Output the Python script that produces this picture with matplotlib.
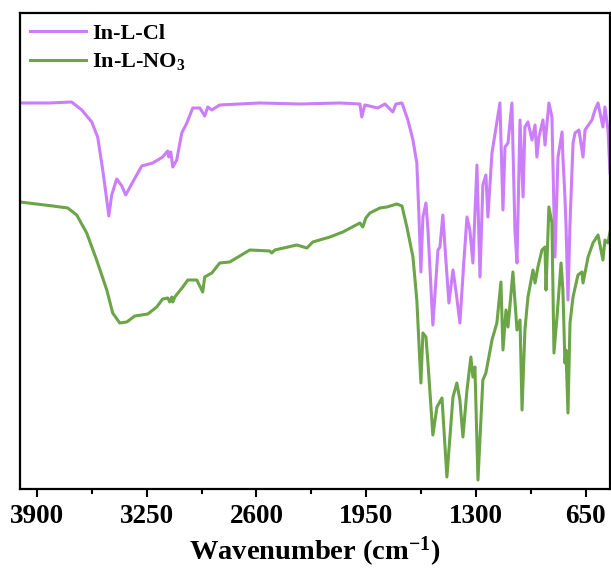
import matplotlib
matplotlib.use("Agg")
import matplotlib.pyplot as plt
from matplotlib.ticker import MultipleLocator

plt.rcParams['font.family'] = ['Liberation Serif', 'DejaVu Serif']
plt.rcParams['font.weight'] = 'bold'
plt.rcParams['mathtext.fontset'] = 'custom'
plt.rcParams['mathtext.rm'] = 'Liberation Serif:bold'
plt.rcParams['mathtext.default'] = 'rm'

# In-L-Cl spectrum (wavenumber cm-1, transmittance a.u.)
wn_cl = [4000, 3824, 3694, 3634, 3575, 3540, 3510, 3486, 3474, 3457, 3427, 3397,
         3374, 3332, 3279, 3214, 3155, 3125, 3119, 3107, 3095, 3072, 3042, 3012,
         2977, 2935, 2906, 2888, 2864, 2817, 2580, 2343, 2106, 1987, 1976, 1958,
         1881, 1839, 1792, 1774, 1738, 1703, 1673, 1650, 1638, 1626, 1614, 1596,
         1584, 1555, 1525, 1513, 1496, 1478, 1460, 1436, 1419, 1395, 1371, 1353,
         1336, 1318, 1294, 1276, 1259, 1241, 1229, 1205, 1158, 1140, 1128, 1110,
         1087, 1069, 1057, 1039, 1021, 1010, 992, 968, 950, 939, 927, 903, 891,
         868, 850, 832, 814, 790, 785, 773, 767, 755, 743, 725, 713, 690, 666,
         654, 613, 595, 577, 548, 536, 518, 506]
t_cl = [386, 386, 387, 379, 367, 352, 319, 289, 273, 294, 310, 303,
        294, 307, 323, 326, 332, 338, 332, 337, 322, 329, 356, 366,
        381, 381, 373, 382, 379, 384, 386, 385, 386, 385, 372, 384,
        381, 385, 377, 385, 386, 369, 349, 326, 276, 217, 272, 286,
        259, 164, 239, 242, 274, 229, 186, 219, 199, 166, 229, 272,
        259, 226, 324, 212, 304, 314, 272, 336, 386, 279, 342, 346,
        386, 259, 226, 369, 292, 362, 367, 349, 364, 332, 352, 369, 344,
        386, 372, 232, 332, 357, 332, 292, 266, 189, 266, 346, 356, 359, 332,
        359, 369, 379, 386, 362, 382, 359, 316]

# In-L-NO3 spectrum
wn_no3 = [4000, 3806, 3717, 3664, 3605, 3546, 3486, 3451, 3409, 3368, 3320, 3243,
          3190, 3155, 3125, 3113, 3101, 3095, 3083, 3036, 3006, 2953, 2918, 2906,
          2864, 2817, 2758, 2639, 2521, 2509, 2491, 2361, 2301, 2266, 2165, 2088,
          1987, 1970, 1952, 1928, 1869, 1827, 1768, 1738, 1709, 1673, 1650, 1626,
          1614, 1596, 1584, 1555, 1531, 1501, 1472, 1436, 1413, 1395, 1377, 1353,
          1330, 1318, 1306, 1288, 1259, 1241, 1205, 1176, 1152, 1140, 1122, 1110,
          1081, 1057, 1039, 1027, 1010, 992, 962, 950, 933, 909, 891, 885, 868,
          850, 838, 820, 796, 785, 773, 767, 755, 743, 725, 696, 672, 666, 636,
          607, 577, 548, 536, 518, 506]
t_no3 = [287, 283, 281, 274, 256, 229, 199, 176, 166, 167, 173, 175,
         182, 190, 191, 187, 192, 187, 192, 202, 209, 209, 197, 212,
         216, 226, 227, 239, 238, 236, 239, 244, 241, 247, 252, 257,
         266, 262, 271, 276, 281, 282, 285, 283, 262, 232, 189, 106,
         156, 152, 126, 54, 82, 91, 12, 92, 106, 89, 52, 99,
         132, 112, 122, 9, 109, 116, 149, 166, 207, 139, 179, 162,
         217, 159, 169, 79, 159, 192, 219, 206, 222, 239, 242, 199, 282,
         266, 136, 172, 226, 199, 126, 139, 76, 166, 192, 214, 217, 206, 232,
         246, 254, 229, 249, 246, 257]

labels = ['In-L-Cl', 'In-L-NO$_3$']
colors = ['#CC7DFA', '#6BA547']
xticks = [3900, 3250, 2600, 1950, 1300, 650]

fig = plt.figure(figsize=(6.11, 5.72), dpi=100)
ax = fig.add_axes([0.0327, 0.1451, 0.9657, 0.8322])
ax.plot(wn_cl, t_cl, color=colors[0], lw=2.2, label=labels[0])
ax.plot(wn_no3, t_no3, color=colors[1], lw=2.2, label=labels[1])

ax.set_xlim(4000, 506)
ax.set_ylim(0, 476)
ax.set_yticks([])
ax.set_xticks(xticks)
ax.set_xticklabels([str(v) for v in xticks], fontsize=19.5, fontweight='bold')
ax.xaxis.set_minor_locator(MultipleLocator(325))
ax.tick_params(axis='x', which='major', direction='out', length=6, width=1.5, pad=5)
ax.tick_params(axis='x', which='minor', direction='out', length=3.5, width=1.5)
for s in ax.spines.values():
    s.set_linewidth(1.6)
ax.set_xlabel('Wavenumber (cm$^{-1}$)', fontsize=20.5, fontweight='bold', labelpad=4)

leg = ax.legend(loc='upper left', frameon=False, handlelength=2.5,
                handletextpad=0.3, labelspacing=0.35, borderaxespad=0.0,
                borderpad=0.45,
                prop={'family': 'Liberation Serif', 'weight': 'bold', 'size': 16})

fig.savefig('out.png', dpi=100)
